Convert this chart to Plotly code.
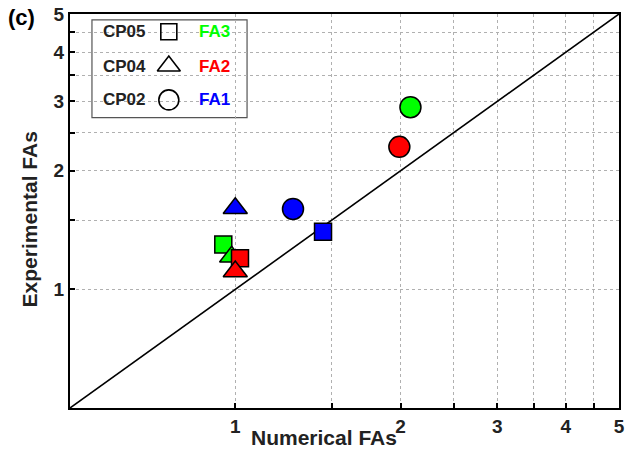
import plotly.graph_objects as go

# ---- data ----
groups = ["FA1", "FA2", "FA3"]
group_colors = {"FA1": "#0000ff", "FA2": "#ff0000", "FA3": "#00ff00"}
cases = ["CP05", "CP04", "CP02"]
case_symbols = {"CP05": "square", "CP04": "triangle-up", "CP02": "circle"}
case_sizes = {"CP05": 17, "CP04": 21, "CP02": 21}

# numerical (x) and experimental (y) FAs
num_fa = {
    ("FA3", "CP05"): 0.951, ("FA3", "CP04"): 0.985, ("FA3", "CP02"): 2.085,
    ("FA2", "CP05"): 1.02,  ("FA2", "CP04"): 1.0,   ("FA2", "CP02"): 1.99,
    ("FA1", "CP05"): 1.445, ("FA1", "CP04"): 1.0,   ("FA1", "CP02"): 1.274,
}
exp_fa = {
    ("FA3", "CP05"): 1.30, ("FA3", "CP04"): 1.21, ("FA3", "CP02"): 2.90,
    ("FA2", "CP05"): 1.20, ("FA2", "CP04"): 1.11, ("FA2", "CP02"): 2.30,
    ("FA1", "CP05"): 1.40, ("FA1", "CP04"): 1.607, ("FA1", "CP02"): 1.60,
}
draw_order = [
    ("FA3", "CP05"), ("FA3", "CP04"), ("FA2", "CP05"), ("FA2", "CP04"),
    ("FA1", "CP04"), ("FA1", "CP02"), ("FA1", "CP05"),
    ("FA2", "CP02"), ("FA3", "CP02"),
]
axis_range = [0.5, 5]
tick_vals = [0.5, 1, 1.5, 2, 2.5, 3, 3.5, 4, 4.5, 5]
tick_text = ["", "1", "", "2", "", "3", "", "4", "", "5"]

legend_rows = [("CP05", "FA3"), ("CP04", "FA2"), ("CP02", "FA1")]
legend_row_y = [0.955, 0.868, 0.782]

FONT = "Liberation Sans, Arial, sans-serif"
TXT = "#222222"

fig = go.Figure()

# 1:1 line
fig.add_trace(go.Scatter(x=axis_range, y=axis_range, mode="lines",
                         line=dict(color="black", width=1.6),
                         showlegend=False, hoverinfo="skip"))

for g, c in draw_order:
    fig.add_trace(go.Scatter(
        x=[num_fa[(g, c)]], y=[exp_fa[(g, c)]], mode="markers",
        marker=dict(symbol=case_symbols[c], size=case_sizes[c],
                    color=group_colors[g],
                    line=dict(color="black", width=1.5)),
        showlegend=False))

# custom legend (overlay axes in 0..1 coordinates)
for (c, g), yy in zip(legend_rows, legend_row_y):
    fig.add_trace(go.Scatter(
        x=[0.18], y=[yy], mode="markers", xaxis="x2", yaxis="y2",
        marker=dict(symbol=case_symbols[c] + "-open", size=case_sizes[c] - 1,
                    color="black", line=dict(color="black", width=1.6)),
        showlegend=False, hoverinfo="skip"))
    fig.add_annotation(x=0.1, y=yy, xref="x2", yref="y2", text="<b>%s</b>" % c,
                       xanchor="center", yanchor="middle",
                       showarrow=False, font=dict(family=FONT, size=17, color=TXT))
    fig.add_annotation(x=0.263, y=yy, xref="x2", yref="y2", text="<b>%s</b>" % g,
                       xanchor="center", yanchor="middle",
                       showarrow=False, font=dict(family=FONT, size=17, color=group_colors[g]))

fig.add_shape(type="rect", xref="paper", yref="paper", x0=0.04, x1=0.3225,
              y0=0.737, y1=0.985, line=dict(color="#555555", width=1.2),
              fillcolor="white", layer="below")

bold_ticks = ["<b>%s</b>" % t if t else "" for t in tick_text]
axis_common = dict(
    type="log", range=[-0.30103, 0.69897], tickvals=tick_vals, ticktext=bold_ticks,
    showgrid=True, gridcolor="#b0b0b0", griddash="dot", gridwidth=1,
    showline=True, linecolor="black", linewidth=2, mirror=True,
    ticks="inside", ticklen=5, tickcolor="black", tickwidth=1.5,
    tickfont=dict(family=FONT, size=19, color=TXT), zeroline=False,
)
fig.update_layout(
    width=629, height=451,
    margin=dict(l=70, r=4, t=12, b=43),
    paper_bgcolor="white", plot_bgcolor="white",
    xaxis=axis_common, yaxis=axis_common,
    xaxis2=dict(overlaying="x", range=[0, 1], visible=False, domain=[0, 1], anchor="y2"),
    yaxis2=dict(overlaying="y", range=[0, 1], visible=False, domain=[0, 1], anchor="x2"),
    showlegend=False,
)

fig.add_annotation(x=(327 - 70) / 555, y=-(438 - 408) / 396, xref="paper", yref="paper",
                   text="<b>Numerical FAs</b>", showarrow=False,
                   xanchor="center", yanchor="middle",
                   font=dict(family=FONT, size=21, color=TXT))
fig.add_annotation(x=-(70 - 30) / 555, y=1 - (218 - 12) / 396, xref="paper", yref="paper",
                   text="<b>Experimental FAs</b>", showarrow=False, textangle=-90,
                   xanchor="center", yanchor="middle",
                   font=dict(family=FONT, size=21, color=TXT))
fig.add_annotation(x=-(70 - 21) / 555, y=1 - (16 - 12) / 396, xref="paper", yref="paper",
                   text="<b>(c)</b>", showarrow=False,
                   xanchor="center", yanchor="middle",
                   font=dict(family=FONT, size=22, color="black"))

fig.write_html("out.html")
